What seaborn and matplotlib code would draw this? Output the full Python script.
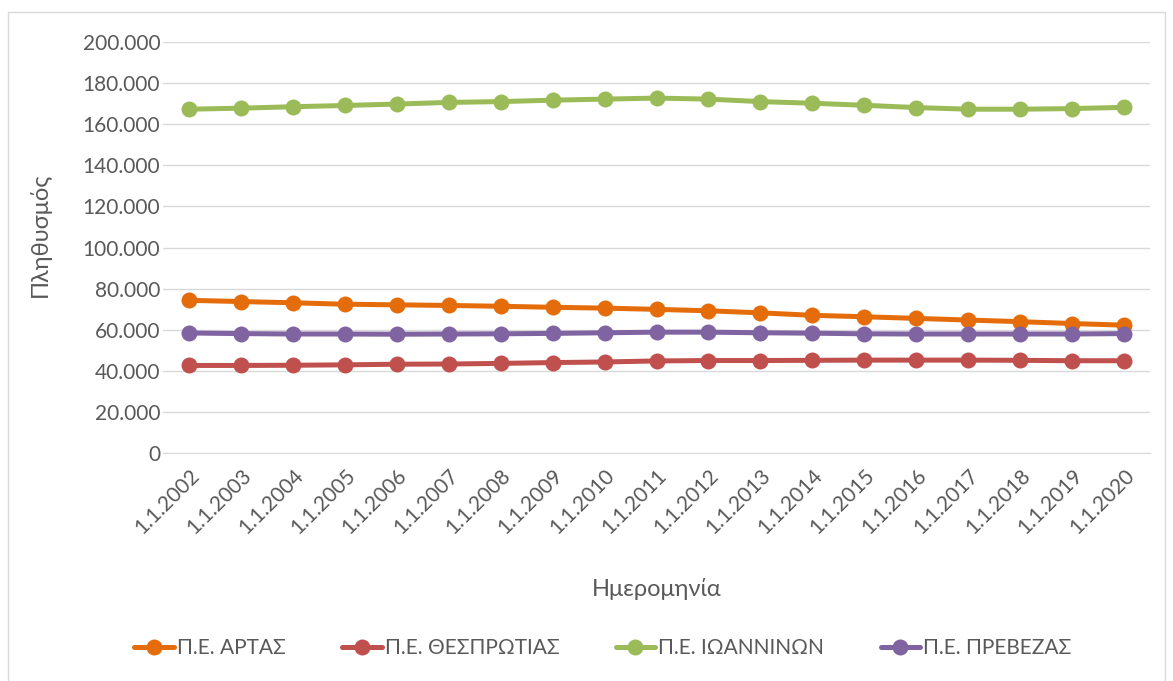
import pandas as pd
import matplotlib.pyplot as plt
import seaborn as sns
from matplotlib.ticker import FuncFormatter, MultipleLocator
from matplotlib.patches import Rectangle

# Δεδομένα (εκτίμηση από το γράφημα)
dates = ['1.1.2002', '1.1.2003', '1.1.2004', '1.1.2005', '1.1.2006', '1.1.2007',
         '1.1.2008', '1.1.2009', '1.1.2010', '1.1.2011', '1.1.2012', '1.1.2013',
         '1.1.2014', '1.1.2015', '1.1.2016', '1.1.2017', '1.1.2018', '1.1.2019',
         '1.1.2020']
arta = [74300, 73700, 73100, 72400, 72100, 71800, 71400, 70900, 70500, 69900,
        69200, 68200, 67000, 66300, 65500, 64700, 63900, 63000, 62200]
thesprotia = [42600, 42600, 42700, 42900, 43200, 43300, 43600, 44000, 44300, 44800,
              45000, 45000, 45100, 45200, 45200, 45200, 45100, 44900, 44900]
ioannina = [167300, 167800, 168500, 169100, 169800, 170600, 171000, 171700, 172200, 172700,
            172200, 171000, 170200, 169200, 168100, 167300, 167300, 167600, 168200]
preveza = [58400, 58100, 57900, 57900, 57800, 57900, 58000, 58200, 58500, 58800,
           58800, 58500, 58300, 58000, 57900, 57900, 57900, 57900, 58100]

series = {
    'Π.Ε. ΑΡΤΑΣ': arta,
    'Π.Ε. ΘΕΣΠΡΩΤΙΑΣ': thesprotia,
    'Π.Ε. ΙΩΑΝΝΙΝΩΝ': ioannina,
    'Π.Ε. ΠΡΕΒΕΖΑΣ': preveza,
}
colors = ['#E46C0A', '#C0504D', '#9BBB59', '#8064A2']

rows = []
for name, vals in series.items():
    for i, v in enumerate(vals):
        rows.append({'idx': i, 'Περιοχή': name, 'Πληθυσμός': v})
df = pd.DataFrame(rows)

sns.set_style("white")
plt.rcParams['font.family'] = ['Lato', 'DejaVu Sans']

fig = plt.figure(figsize=(11.73, 6.81), dpi=100)
ax = fig.add_axes([163 / 1173, 1 - 453 / 681, 987 / 1173, 411 / 681])

sns.lineplot(data=df, x='idx', y='Πληθυσμός', hue='Περιοχή',
             palette=colors, marker='o', markersize=11.5, markeredgewidth=0,
             linewidth=3.6, ax=ax, legend=False, zorder=3)

ax.set_xlim(-0.5, len(dates) - 0.5)
ax.set_ylim(0, 200000)
ax.yaxis.set_major_locator(MultipleLocator(20000))
ax.yaxis.set_major_formatter(FuncFormatter(lambda v, p: f"{int(v):,}".replace(',', '.')))
ax.set_xticks(range(len(dates)))
ax.set_xticklabels(dates, rotation=45, ha='right', rotation_mode='anchor')

ax.grid(axis='y', color='#D9D9D9', linewidth=1)
for s in ['top', 'right', 'left']:
    ax.spines[s].set_visible(False)
ax.spines['bottom'].set_color('#D9D9D9')
ax.tick_params(axis='both', length=0, labelsize=15, labelcolor='#595959')
ax.tick_params(axis='x', pad=9)
ax.tick_params(axis='y', pad=2)

ax.set_xlabel('Ημερομηνία', fontsize=17, color='#595959')
ax.set_ylabel('Πληθυσμός', fontsize=17, color='#595959')
ax.xaxis.set_label_coords(0.5, -0.305)
ax.yaxis.set_label_coords(-0.114, 0.53)

handles = [plt.Line2D([], [], color=c, linewidth=3.6, marker='o', markersize=11.5,
                      markeredgewidth=0) for c in colors]
fig.legend(handles, list(series.keys()), loc='center', bbox_to_anchor=(0.514, 0.048),
           ncol=4, frameon=False, fontsize=15, labelcolor='#595959',
           handlelength=1.9, columnspacing=2.7, handletextpad=0.15)

# Πλαίσιο γραφήματος
fig.patches.append(Rectangle((8 / 1173, -0.01), 1157 / 1173, 1 - 12 / 681 + 0.01,
                             transform=fig.transFigure, fill=False,
                             edgecolor='#D9D9D9', linewidth=1))

fig.savefig("out.png", dpi=100)
